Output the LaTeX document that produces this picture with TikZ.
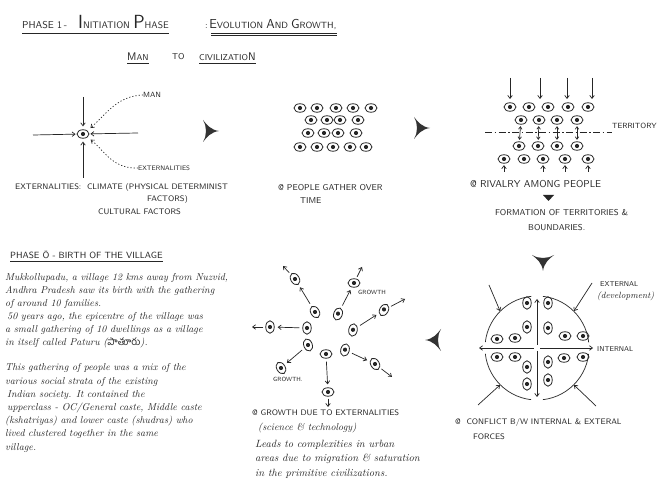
\documentclass[tikz,border=0pt]{standalone}
\usepackage{fontspec}
\newfontfamily\telugufont[Script=Telugu]{Hind Guntur}
\usetikzlibrary{shapes.geometric,arrows.meta}
\begin{document}
\begin{tikzpicture}[x=1pt,y=-1pt,
  ink/.style={line width=0.7pt, draw=black!85},
  arr/.style={ink,-{Straight Barb[length=3pt,width=4.5pt]}},
  darr/.style={ink,{Straight Barb[length=2.5pt,width=3.5pt]}-{Straight Barb[length=2.5pt,width=3.5pt]}},
  eyeh/.style={ellipse, draw=black!85, line width=0.8pt, minimum width=12pt, minimum height=8.5pt, inner sep=0pt,
    path picture={\fill[black!85] (path picture bounding box.center) circle (2.1pt);}},
  eyev/.style={eyeh, minimum width=8.5pt, minimum height=12.5pt},
  lbl/.style={font=\sffamily\fontsize{7.5}{9}\selectfont, inner sep=0pt, anchor=west, text=black!85},
  hand/.style={font=\itshape\fontsize{10}{12}\selectfont, inner sep=0pt, anchor=base west, text=black!85},
  bighead/.pic={\fill[black!80] (9,0) .. controls (1,-1) and (-3,-6) .. (-7,-11) .. controls (-3,-4) and (-3,4) .. (-7,11) .. controls (-3,6) and (1,1) .. (9,0) -- cycle;},
]
\fill[white] (0,0) rectangle (662,486);
\useasboundingbox (0,0) rectangle (662,486);

% ---------- title ----------
\node[anchor=base west, inner sep=0pt, font=\sffamily, text=black!85] (ph1) at (22,29) {\fontsize{10}{10}\selectfont PHASE 1\,-};
\node[anchor=base west, inner sep=0pt, font=\sffamily, text=black!85] (ini) at (78,29)
  {{\fontsize{19}{19}\selectfont I}{\fontsize{9.5}{10}\selectfont NITIATION} {\fontsize{19}{19}\selectfont P}{\fontsize{9.5}{10}\selectfont HASE}};
\node[anchor=base west, inner sep=0pt, font=\sffamily, text=black!85] (evo) at (205,29)
  {\fontsize{9}{10}\selectfont :\,{\fontsize{13}{13}\selectfont E}VOLUTION {\fontsize{13}{13}\selectfont A}ND {\fontsize{13}{13}\selectfont G}ROWTH,};
\draw[ink] ([yshift=-4pt]ph1.base west) -- ([yshift=-4pt]ini.base east);
\draw[ink] ([yshift=-4pt,xshift=6pt]evo.base west) -- ([yshift=-4pt]evo.base east);
\draw[ink] ([yshift=-6pt,xshift=6pt]evo.base west) -- ([yshift=-6pt]evo.base east);

\node[lbl, font=\sffamily\fontsize{8.5}{9}\selectfont] (man0) at (127,57) {{\fontsize{11}{11}\selectfont M}AN};
\node[lbl, font=\sffamily\fontsize{8.5}{9}\selectfont] (to0) at (172,57) {TO};
\node[lbl, font=\sffamily\fontsize{8.5}{9}\selectfont] (civ) at (199,57) {CIVILIZATIO{\fontsize{11}{11}\selectfont N}};
\draw[ink] ([yshift=-2pt]man0.south west) -- ([yshift=-2pt]man0.south east);
\draw[ink] ([yshift=-2pt]civ.south west) -- ([yshift=-2pt]civ.south east);

% ---------- diagram 1: man ----------
\node[eyeh] (e0) at (83,134) {};
\coordinate (c1t) at (83,97);
\coordinate (c1b) at (83,178);
\coordinate (c1l) at (33,135);
\coordinate (c1r) at (138,133);
\draw[arr, shorten >=3pt] (c1t) -- (e0);
\draw[arr, shorten >=3pt] (c1b) -- (e0);
\draw[arr, shorten >=1pt] (c1l) -- (e0);
\draw[arr, shorten >=1pt] (c1r) -- (e0);
\node[lbl] (man) at (143,95) {MAN};
\node[lbl, font=\sffamily\fontsize{6.5}{8}\selectfont] (ext) at (138,168) {EXTERNALITIES};
\draw[arr, ink, dash pattern=on 1.2pt off 2pt, shorten >=4pt] (man.west) .. controls (118,96) and (108,112) .. (e0.north east);
\draw[arr, ink, dash pattern=on 1.2pt off 2pt, shorten >=4pt] (ext.west) .. controls (112,169) and (104,150) .. (e0.south east);
\node[lbl, font=\sffamily\fontsize{8}{9}\selectfont] (exA) at (15,188) {EXTERNALITIES:\ \ CLIMATE (PHYSICAL DETERMINIST};
\node[lbl, font=\sffamily\fontsize{8}{9}\selectfont] (exB) at (147,200) {FACTORS)};
\node[lbl, font=\sffamily\fontsize{8}{9}\selectfont] (exC) at (98,212) {CULTURAL FACTORS};

\pic at (210,131) {bighead};

% ---------- diagram 2: gathering ----------
\foreach \x [count=\i] in {300,317,336,353,371} \node[eyeh] (ga\i) at (\x,108) {};
\foreach \x [count=\i] in {311,327,340,358} \node[eyeh] (gb\i) at (\x,120) {};
\foreach \x [count=\i] in {308,324,338,356} \node[eyeh] (gc\i) at (\x,133) {};
\foreach \x [count=\i] in {300,317,333,350,366} \node[eyeh] (gd\i) at (\x,147) {};
\node[lbl, font=\sffamily\fontsize{8.5}{9}\selectfont] (gath) at (278,188) {@ PEOPLE GATHER OVER};
\node[lbl, font=\sffamily\fontsize{8.5}{9}\selectfont] (time) at (300,201) {TIME};

\pic at (421,128) {bighead};

% ---------- diagram 3: territory ----------
\foreach \x [count=\i] in {510,529,548,568,588} \node[eyeh] (ta\i) at (\x,107) {};
\foreach \x [count=\i] in {521,539,557,577} \node[eyeh] (tb\i) at (\x,120) {};
\foreach \x [count=\i] in {519,538,557,577} \node[eyeh] (tc\i) at (\x,146) {};
\foreach \x [count=\i] in {504,524,543,565,588} \node[eyeh] (td\i) at (\x,159) {};
\foreach \x [count=\i] in {510,540,567,592} {
  \coordinate (tt\i) at (\x,78);
  \coordinate (tu\i) at (\x,99);
  \draw[arr] (tt\i) -- (tu\i);
}
\foreach \i in {1,2,3,4} \draw[darr, shorten <=1.5pt, shorten >=1.5pt] (tb\i) -- (tc\i);
\foreach \i in {1,3,4,5} \draw[arr, shorten >=1.5pt] ([yshift=-8pt]td\i.south) -- (td\i.south);
\coordinate (tl) at (485,132);
\coordinate (tr) at (612,132);
\draw[ink, dash pattern=on 7pt off 2.5pt on 1.5pt off 2.5pt] (tl) -- (tr);
\node[lbl] (terr) at (612,126) {TERRITORY};
\node[lbl, font=\sffamily\fontsize{10}{10}\selectfont] (riv) at (470,184) {@ RIVALRY AMONG PEOPLE};
\fill[black!85] (543,195) -- (554,195) -- (548.5,201) -- cycle;
\node[lbl, font=\sffamily\fontsize{8.5}{9}\selectfont] (form) at (495,213) {FORMATION OF TERRITORIES \&};
\node[lbl, font=\sffamily\fontsize{8.5}{9}\selectfont] (bound) at (528,228) {BOUNDARIES.};

\pic[rotate=-90] at (543,262) {bighead};

% ---------- diagram 4: conflict ----------
\node[circle, minimum size=104pt, inner sep=0pt] (ring) at (537,348) {};
\draw[ink, dash pattern=on 70pt off 11.7pt, dash phase=76pt] (ring.center) circle[radius=52pt];
\coordinate (ru) at (537,299);
\coordinate (rd) at (537,397);
\coordinate (rl) at (479,348);
\coordinate (rr) at (593,348);
\draw[arr, shorten <=3pt] (ring.center) -- (ru);
\draw[arr, shorten <=3pt] (ring.center) -- (rd);
\draw[arr, shorten <=3pt] (ring.center) -- (rl);
\draw[arr, shorten <=3pt] (ring.center) -- (rr);
\node[eyev] (k1) at (527,303) {};
\node[eyev] (k2) at (527,327) {};
\node[eyev] (k3) at (548,303) {};
\node[eyev] (k4) at (548,328) {};
\node[eyeh] (k5) at (497,339) {};
\node[eyeh] (k6) at (515,338) {};
\node[eyeh] (k7) at (565,336) {};
\node[eyeh] (k8) at (583,336) {};
\node[eyeh] (k9) at (497,357) {};
\node[eyeh] (k10) at (515,357) {};
\node[eyeh] (k11) at (564,358) {};
\node[eyeh] (k12) at (583,357) {};
\node[eyev] (k13) at (527,367) {};
\node[eyev] (k14) at (527,384) {};
\node[eyev] (k15) at (548,362) {};
\node[eyev] (k16) at (548,380) {};
\coordinate (x1) at (489,285);
\coordinate (x2) at (592,283);
\coordinate (x3) at (478,405);
\coordinate (x4) at (596,406);
\draw[arr] (x1) -- (ring.135);
\draw[arr] (x2) -- (ring.45);
\draw[arr] (x3) -- (ring.225);
\draw[arr] (x4) -- (ring.-45);
\node[lbl, font=\sffamily\fontsize{7}{8}\selectfont] (extl) at (600,284) {EXTERNAL};
\node[hand, font=\itshape\fontsize{9}{10}\selectfont] (dev) at (597,299) {(development)};
\node[lbl, font=\sffamily\fontsize{7}{8}\selectfont] (intl) at (597,349) {INTERNAL};
\node[lbl, font=\sffamily\fontsize{8}{9}\selectfont] (conf) at (455,423) {@\ \ CONFLICT B/W INTERNAL \& EXTERAL};
\node[lbl, font=\sffamily\fontsize{8}{9}\selectfont] (forc) at (473,437) {FORCES};

\pic[rotate=180] at (434,340) {bighead};

% ---------- diagram 5: growth ----------
\node[eyev, rotate=30] (gi1) at (315,312) {};
\node[eyev, rotate=-20] (gi2) at (338,314) {};
\node[eyev, rotate=-10] (gi3) at (353,330) {};
\node[eyev] (gi4) at (307,328) {};
\node[eyev, rotate=20] (gi5) at (308,345) {};
\node[eyeh] (gi6) at (326,354) {};
\node[eyev, rotate=-15] (gi7) at (345,350) {};
\node[eyev, rotate=30] (go1) at (295,279) {};
\node[eyeh] (go2) at (354,283) {};
\node[eyev, rotate=-30] (go3) at (384,310) {};
\node[eyev] (go4) at (270,327) {};
\node[eyev, rotate=30] (go5) at (281,368) {};
\node[eyeh] (go6) at (328,392) {};
\node[eyev, rotate=30] (go7) at (375,364) {};
\coordinate (ge1) at (283,266);
\coordinate (ge2) at (362,267);
\coordinate (ge3) at (405,299);
\coordinate (ge4) at (252,327);
\coordinate (ge6) at (328,407);
\coordinate (ge7) at (392,377);
\foreach \i in {1,2,3,4,5,6,7} \draw[arr, shorten <=3pt, shorten >=3pt] (gi\i) -- (go\i);
\foreach \i in {1,2,3,4,6,7} \draw[arr, shorten <=2pt] (go\i) -- (ge\i);
\node[lbl, font=\sffamily\fontsize{6}{7}\selectfont] (gr1) at (358,292) {GROWTH};
\node[lbl, font=\sffamily\fontsize{6}{7}\selectfont] (gr2) at (273,379) {GROWTH.};
\node[lbl, font=\sffamily\fontsize{8}{9}\selectfont] (gdue) at (252,413) {@ GROWTH DUE TO EXTERNALITIES};
\node[hand] (g2) at (258,431) {(science \& technology)};
\node[hand, font=\itshape\fontsize{10.5}{12}\selectfont] (g3) at (255,448) {Leads to complexities in urban};
\node[hand, font=\itshape\fontsize{10.5}{12}\selectfont] (g4) at (255,462) {areas due to migration \& saturation};
\node[hand, font=\itshape\fontsize{10.5}{12}\selectfont] (g5) at (255,477) {in the primitive civilizations.};

% ---------- phase 0 text ----------
\node[lbl, font=\sffamily\fontsize{9}{10}\selectfont] (p0) at (10,255) {PHASE \"O - BIRTH OF THE VILLAGE};
\draw[ink] ([yshift=-2pt]p0.south west) -- ([yshift=-2pt]p0.south east);
\node[hand] (l1) at (5,281) {Mukkollupadu, a village 12 kms away from Nuzvid,};
\node[hand] (l2) at (5,294) {Andhra Pradesh saw its birth with the gathering};
\node[hand] (l3) at (5,307) {of around 10 families.};
\node[hand] (l4) at (7,320) {50 years ago, the epicentre of the village was};
\node[hand] (l5) at (5,333) {a small gathering of 10 dwellings as a village};
\node[hand] (l6) at (5,346) {in itself called Paturu ({\telugufont\upshape పాతూరు}).};
\node[hand] (l7) at (5,371) {This gathering of people was a mix of the};
\node[hand] (l8) at (5,385) {various social strata of the existing};
\node[hand] (l9) at (7,398) {Indian society. It contained the};
\node[hand] (l10) at (7,411) {upperclass - OC/General caste, Middle caste};
\node[hand] (l11) at (5,424) {(kshatriyas) and lower caste (shudras) who};
\node[hand] (l12) at (5,437) {lived clustered together in the same};
\node[hand] (l13) at (5,450) {village.};
\end{tikzpicture}
\end{document}
